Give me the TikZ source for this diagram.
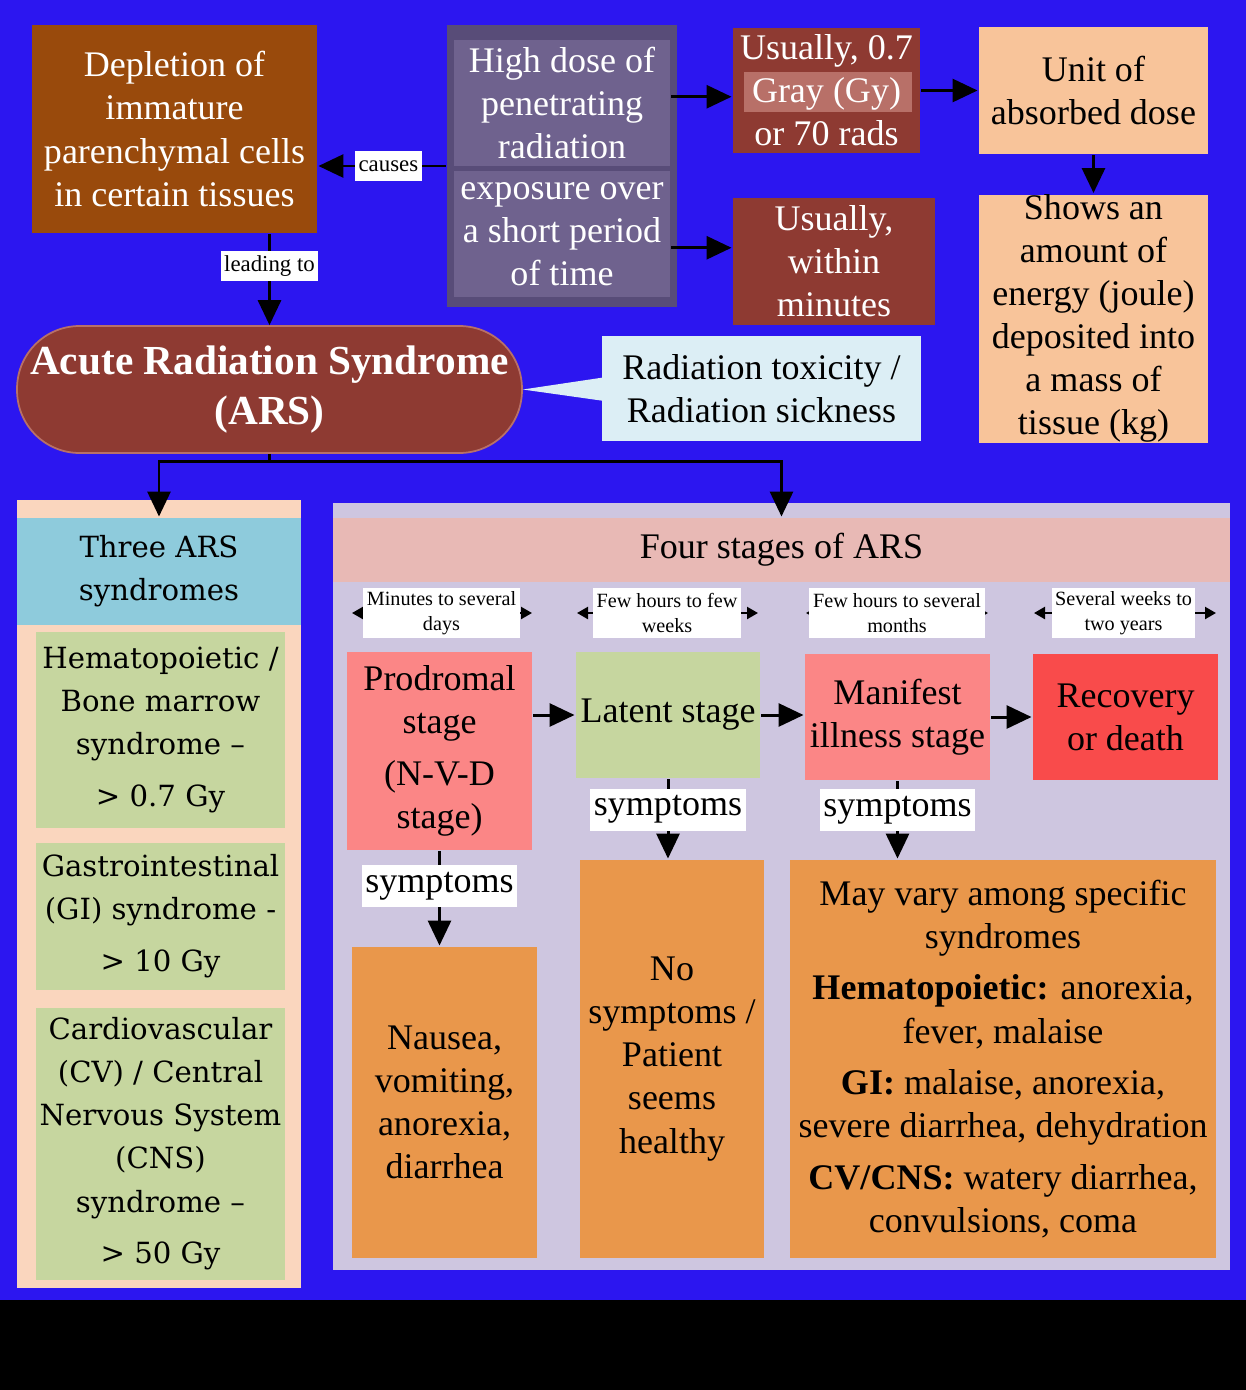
\documentclass[tikz,border=0pt]{standalone}
\usepackage{fontspec}
\setmainfont{Liberation Serif}
\newfontfamily\widefont{DejaVu Serif}
\usepackage{tikz}
\usetikzlibrary{shapes, shapes.callouts, positioning, arrows.meta, calc}

\definecolor{bgblue}{RGB}{44,22,240}
\definecolor{rust}{RGB}{153,74,12}
\definecolor{plumdark}{RGB}{88,76,120}
\definecolor{plum}{RGB}{111,98,142}
\definecolor{brick}{RGB}{142,58,50}
\definecolor{brickhl}{RGB}{184,112,104}
\definecolor{peach}{RGB}{248,196,154}
\definecolor{paleblue}{RGB}{220,238,245}
\definecolor{apricot}{RGB}{250,214,190}
\definecolor{skyblue}{RGB}{142,203,220}
\definecolor{sage}{RGB}{198,214,159}
\definecolor{lavender}{RGB}{206,198,224}
\definecolor{rosepink}{RGB}{232,185,181}
\definecolor{salmon}{RGB}{251,134,134}
\definecolor{redstage}{RGB}{249,75,75}
\definecolor{orangebox}{RGB}{233,151,75}

\newcommand\boxfont{\fontsize{20.5}{24.5}\selectfont}
\newcommand\arsfont{\bfseries\fontsize{23.5}{28}\selectfont}
\newcommand\smallfont{\fontsize{11.5}{14.2}\selectfont}
\newcommand\labfont{\fontsize{13}{15}\selectfont}
\newcommand\synfont{\widefont\fontsize{16.6}{24.5}\selectfont}

\begin{document}
\begin{tikzpicture}[
    x=0.02cm, y=-0.02cm,
    > = {Triangle[length=0.5cm, width=0.46cm]}, line width=1.7pt,
    box/.style={rectangle, inner sep=0pt, align=center, font=\boxfont},
    darkbox/.style={box, text=white},
    lab/.style={fill=white, inner sep=2pt, font=\labfont, minimum height=0.6cm},
    symlab/.style={fill=white, inner sep=2pt, font=\boxfont, minimum height=0.84cm},
    durlab/.style={fill=white, inner sep=0pt, align=center, font=\smallfont, minimum height=1cm},
    durarrow/.style={<->, >={Triangle[length=0.22cm, width=0.24cm]}, line width=1.3pt},
    synbox/.style={rectangle, fill=sage, inner sep=0pt, align=center, font=\synfont, minimum width=4.98cm}
]
\useasboundingbox (0,0) rectangle (1246,1390);
\fill[bgblue] (0,0) rectangle (1246,1300);
\fill[black] (0,1300) rectangle (1246,1390);

% 1. RADIATION DOSE
\node[darkbox, fill=rust, minimum width=5.7cm, minimum height=4.16cm] (depl) at (174.5,129)
    {Depletion of\\immature\\parenchymal cells\\in certain tissues};
\node[box, fill=plumdark, minimum width=4.6cm, minimum height=5.64cm] (hiframe) at (562,166) {};
\node[darkbox, fill=plum, minimum width=4.32cm, minimum height=2.52cm] (hiup) at (562,103)
    {High dose of\\penetrating\\radiation};
\node[darkbox, fill=plum, minimum width=4.32cm, minimum height=2.52cm] (hilow) at (562,234)
    {exposure over\\a short period\\of time};

\node[box, fill=brick, minimum width=3.74cm, minimum height=2.5cm] (dose) at (826.5,90.5) {};
\node[box, fill=brickhl, minimum width=3.36cm, minimum height=0.8cm] (grayhl) at (828,92) {};
\node[darkbox] (dosetxt) at (dose) {Usually, 0.7\\Gray (Gy)\\or 70 rads};
\node[darkbox, fill=brick, minimum width=4.04cm, minimum height=2.54cm] (within) at (834,261.5)
    {Usually,\\within\\minutes};

\node[box, fill=peach, minimum width=4.58cm, minimum height=2.54cm] (unit) at (1093.5,90.5)
    {Unit of\\absorbed dose};
\node[box, fill=peach, minimum width=4.58cm, minimum height=4.94cm] (shows) at (1093.5,318.5)
    {Shows an\\amount of\\energy (joule)\\deposited into\\a mass of\\tissue (kg)};

\coordinate (upmid) at ($(hiup.east)!0.5!(hiup.east |- dose.west)$);
\coordinate (lowmid) at ($(hilow.east)!0.5!(hilow.east |- within.west)$);
\draw[->] (upmid) -- (upmid -| dose.west);
\draw[->] (lowmid) -- (lowmid -| within.west);
\draw[->] (dose.east) -- (unit.west);
\draw[->] (unit.south) -- (shows.north);
\draw[->] (hiframe.west) -- (hiframe.west -| depl.east) node[lab, pos=0.45] (causes) {causes};

% 2. ARS
\node[box, fill=brick, draw=brickhl, line width=1pt, rounded corners=1.25cm, text=white, font=\arsfont,
    minimum width=10.1cm, minimum height=2.54cm] (ars) at (269.5,389.5)
    {Acute Radiation Syndrome\\(ARS)};
\node[box, rectangle callout, fill=paleblue, minimum width=6.38cm, minimum height=2.1cm,
    callout absolute pointer={(ars.east)}, callout pointer width=0.46cm] (alias) at (761.5,388.5)
    {Radiation toxicity /\\Radiation sickness};
\draw[->] (depl.south -| ars.north) -- (ars.north) node[lab, pos=0.35] (leading) {leading to};

% 3. THREE SYNDROMES
\node[box, fill=apricot, minimum width=5.68cm, minimum height=15.76cm] (synpanel) at (159,894) {};
\node[box, fill=skyblue, font=\synfont, minimum width=5.68cm, minimum height=2.14cm] (synhead) at (159,571.5)
    {Three ARS\\syndromes};
\node[synbox, minimum height=3.92cm] (hemat) at (160.5,730)
    {Hematopoietic /\\Bone marrow\\syndrome –\\[5pt]> 0.7 Gy};
\node[synbox, minimum height=2.94cm] (gastro) at (160.5,916.5)
    {Gastrointestinal\\(GI) syndrome -\\[5pt]> 10 Gy};
\node[synbox, minimum height=5.44cm] (cardio) at (160.5,1144)
    {Cardiovascular\\(CV) / Central\\Nervous System\\(CNS)\\syndrome –\\[5pt]> 50 Gy};

% 4. FOUR STAGES
\node[box, fill=lavender, minimum width=17.94cm, minimum height=15.34cm] (stagepanel) at (781.5,886.5) {};
\node[box, fill=rosepink, minimum width=17.94cm, minimum height=1.28cm] (stagehead) at (781.5,550)
    {Four stages of ARS};

\coordinate (fork) at ($(ars.south)+(0,8)$);
\draw[->] (ars.south) -- (fork) -| (synhead.north);
\draw[->] (fork) -| (stagehead.north);

\coordinate (dur1l) at (352,613);
\coordinate (dur1r) at (532,613);
\draw[durarrow] (dur1l) -- (dur1r);
\node[durlab, minimum width=3.14cm] (dur1) at (441.5,613) {Minutes to several\\days};
\coordinate (dur2l) at (577,613);
\coordinate (dur2r) at (758,613);
\draw[durarrow] (dur2l) -- (dur2r);
\node[durlab, minimum width=2.96cm] (dur2) at (667,613) {Few hours to few\\weeks};
\coordinate (dur3l) at (806,613);
\coordinate (dur3r) at (988,613);
\draw[durarrow] (dur3l) -- (dur3r);
\node[durlab, minimum width=3.52cm] (dur3) at (897,613) {Few hours to several\\months};
\coordinate (dur4l) at (1034,613);
\coordinate (dur4r) at (1216,613);
\draw[durarrow] (dur4l) -- (dur4r);
\node[durlab, minimum width=2.86cm] (dur4) at (1123.5,613) {Several weeks to\\two years};

\node[box, fill=salmon, minimum width=3.7cm, minimum height=3.96cm] (prod) at (439.5,751)
    {Prodromal\\stage\\[5pt](N-V-D\\stage)};
\node[box, fill=sage, minimum width=3.68cm, minimum height=2.52cm] (latent) at (668,715) {Latent stage};
\node[box, fill=salmon, minimum width=3.7cm, minimum height=2.52cm] (manif) at (897.5,717)
    {Manifest\\illness stage};
\node[box, fill=redstage, minimum width=3.7cm, minimum height=2.52cm] (recov) at (1125.5,717)
    {Recovery\\or death};

\draw[->] (prod.east |- latent.west) -- (latent.west);
\draw[->] (latent.east) -- (latent.east -| manif.west);
\draw[->] (manif.east) -- (recov.west);

\node[box, fill=orangebox, minimum width=3.7cm, minimum height=6.22cm] (nausea) at (444.5,1102.5)
    {Nausea,\\vomiting,\\anorexia,\\diarrhea};
\node[box, fill=orangebox, minimum width=3.68cm, minimum height=7.96cm] (nosym) at (672,1059)
    {No\\symptoms /\\Patient\\seems\\healthy};
\node[box, fill=orangebox, minimum width=8.52cm, minimum height=7.96cm] (effects) at (1003,1059)
    {May vary among specific\\syndromes\\[5pt]\textbf{Hematopoietic:} anorexia,\\fever, malaise\\[5pt]%
     \textbf{GI:} malaise, anorexia,\\severe diarrhea, dehydration\\[5pt]%
     \textbf{CV/CNS:} watery diarrhea,\\convulsions, coma};

\draw[->] (prod.south) -- (prod.south |- nausea.north) node[symlab, pos=0.37] (sym1) {symptoms};
\draw[->] (latent.south) -- (latent.south |- nosym.north) node[symlab, pos=0.38] (sym2) {symptoms};
\draw[->] (manif.south) -- (manif.south |- effects.north) node[symlab, pos=0.375] (sym3) {symptoms};
\end{tikzpicture}
\end{document}
